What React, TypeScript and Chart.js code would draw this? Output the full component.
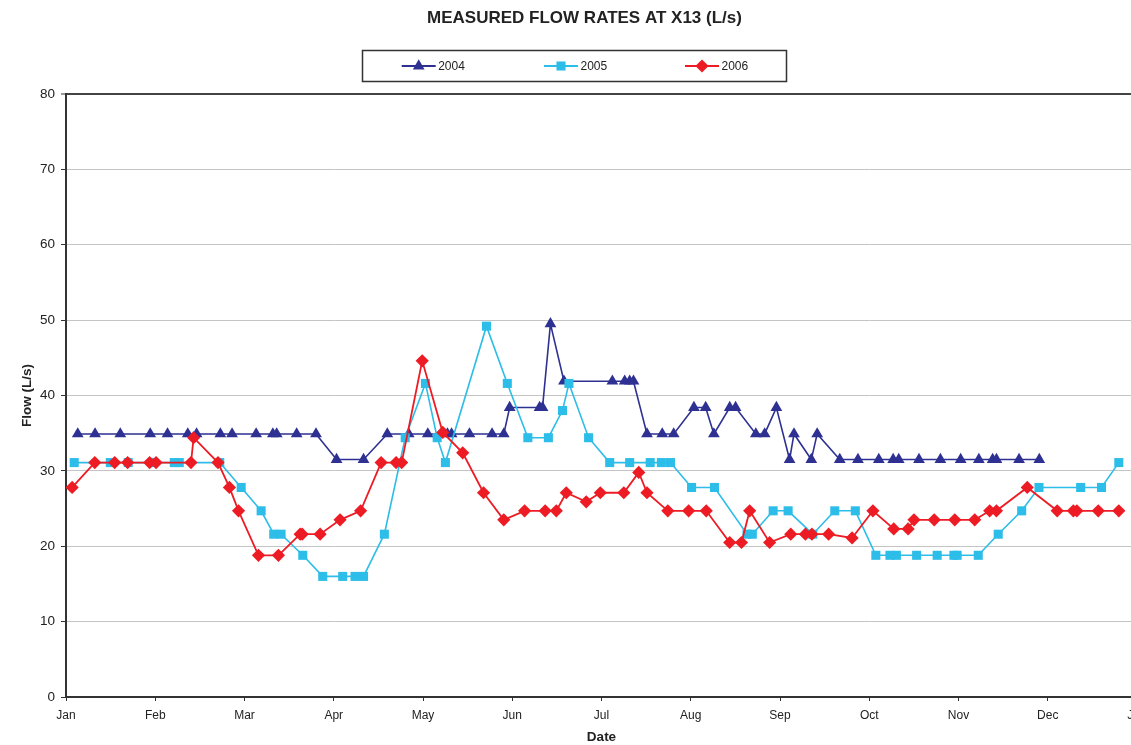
import React, { useEffect, useRef } from "react";
import { Chart, registerables } from "chart.js";

Chart.register(...registerables);

const MONTH_LABELS = ["Jan", "Feb", "Mar", "Apr", "May", "Jun", "Jul", "Aug", "Sep", "Oct", "Nov", "Dec", "Jan"];
const Y_TICKS = [0, 10, 20, 30, 40, 50, 60, 70, 80];

const TITLE = "MEASURED FLOW RATES AT X13 (L/s)";
const X_TITLE = "Date";
const Y_TITLE = "Flow (L/s)";
const SERIES_NAMES = ["2004", "2005", "2006"];

// day of year
const DAYS_2004 = [4.0, 9.9, 18.5, 28.7, 34.6, 41.5, 44.5, 52.6, 56.6, 64.8, 70.5, 71.8, 78.6, 85.2, 92.2, 101.4, 109.5, 116.8, 123.3, 130.0, 131.4, 137.5, 145.2, 149.2, 151.2, 161.4, 162.4, 165.1, 169.7, 186.2, 190.4, 192.1, 193.4, 198.0, 203.2, 207.1, 214.0, 218.0, 220.8, 226.2, 228.2, 235.1, 238.1, 242.1, 246.6, 248.1, 254.0, 256.0, 263.7, 269.9, 277.0, 281.9, 283.8, 290.7, 298.0, 304.9, 311.1, 315.8, 317.1, 324.8, 331.7];
const FLOW_2004 = [34.9, 34.9, 34.9, 34.9, 34.9, 34.9, 34.9, 34.9, 34.9, 34.9, 34.9, 34.9, 34.9, 34.9, 31.5, 31.5, 34.9, 34.9, 34.9, 34.9, 34.9, 34.9, 34.9, 34.9, 38.4, 38.4, 38.4, 49.5, 41.9, 41.9, 41.9, 41.9, 41.9, 34.9, 34.9, 34.9, 38.4, 38.4, 34.9, 38.4, 38.4, 34.9, 34.9, 38.4, 31.5, 34.9, 31.5, 34.9, 31.5, 31.5, 31.5, 31.5, 31.5, 31.5, 31.5, 31.5, 31.5, 31.5, 31.5, 31.5, 31.5];

const DAYS_2005 = [2.8, 15.1, 21.2, 29.4, 36.9, 38.6, 52.4, 59.7, 66.5, 70.8, 73.3, 80.7, 87.5, 94.3, 98.5, 101.4, 108.5, 115.6, 122.5, 126.5, 129.3, 143.3, 150.4, 157.4, 164.4, 169.2, 171.4, 178.1, 185.3, 192.1, 199.1, 202.9, 206.0, 213.2, 221.0, 232.1, 233.9, 241.0, 246.1, 254.5, 262.0, 269.0, 276.0, 280.8, 283.0, 289.9, 296.9, 302.6, 303.7, 310.9, 317.7, 325.7, 331.6, 345.8, 352.9, 358.8];
const FLOW_2005 = [31.1, 31.1, 31.1, 31.1, 31.1, 31.1, 31.1, 27.8, 24.7, 21.6, 21.6, 18.8, 16.0, 16.0, 16.0, 16.0, 21.6, 34.4, 41.6, 34.4, 31.1, 49.2, 41.6, 34.4, 34.4, 38.0, 41.6, 34.4, 31.1, 31.1, 31.1, 31.1, 31.1, 27.8, 27.8, 21.6, 21.6, 24.7, 24.7, 21.6, 24.7, 24.7, 18.8, 18.8, 18.8, 18.8, 18.8, 18.8, 18.8, 18.8, 21.6, 24.7, 27.8, 27.8, 27.8, 31.1];

const DAYS_2006 = [2.1, 9.8, 16.6, 21.0, 28.5, 30.7, 42.6, 43.5, 51.8, 55.7, 58.8, 65.6, 72.4, 79.8, 80.5, 86.6, 93.4, 100.4, 107.4, 112.5, 114.4, 121.4, 128.4, 135.2, 142.3, 149.2, 156.3, 163.3, 167.1, 170.5, 177.3, 182.1, 190.1, 195.2, 198.0, 205.1, 212.2, 218.2, 226.2, 230.2, 233.0, 239.8, 247.0, 252.0, 254.2, 259.9, 267.9, 275.0, 282.1, 287.0, 289.0, 295.9, 302.9, 309.7, 314.8, 317.1, 327.6, 337.8, 343.3, 344.5, 351.8, 358.8];
const FLOW_2006 = [27.8, 31.1, 31.1, 31.1, 31.1, 31.1, 31.1, 34.4, 31.1, 27.8, 24.7, 18.8, 18.8, 21.6, 21.6, 21.6, 23.5, 24.7, 31.1, 31.1, 31.1, 44.6, 35.1, 32.4, 27.1, 23.5, 24.7, 24.7, 24.7, 27.1, 25.9, 27.1, 27.1, 29.8, 27.1, 24.7, 24.7, 24.7, 20.5, 20.5, 24.7, 20.5, 21.6, 21.6, 21.6, 21.6, 21.1, 24.7, 22.3, 22.3, 23.5, 23.5, 23.5, 23.5, 24.7, 24.7, 27.8, 24.7, 24.7, 24.7, 24.7, 24.7];

const COLORS = ["#2E3192", "#2CBDE8", "#ED1C24"];
const STYLES = ["triangle", "rect", "rectRot"];
const RADII = [6.8, 6.4, 6.6];
const TEXT = "#222222";
const FONT = "Arial, 'Liberation Sans', sans-serif";

function toPoints(xs: number[], ys: number[]) {
  return xs.map((x, i) => ({ x, y: ys[i] }));
}

function drawMarker(ctx: CanvasRenderingContext2D, style: string, x: number, y: number, r: number) {
  ctx.beginPath();
  if (style === "triangle") {
    for (let k = 0; k < 3; k++) {
      const a = (k * 2 * Math.PI) / 3;
      const px = x + Math.sin(a) * r;
      const py = y - Math.cos(a) * r;
      if (k === 0) ctx.moveTo(px, py);
      else ctx.lineTo(px, py);
    }
    ctx.closePath();
  } else if (style === "rect") {
    const s = r * Math.SQRT1_2;
    ctx.rect(x - s, y - s, 2 * s, 2 * s);
  } else {
    ctx.moveTo(x, y - r);
    ctx.lineTo(x + r, y);
    ctx.lineTo(x, y + r);
    ctx.lineTo(x - r, y);
    ctx.closePath();
  }
  ctx.fill();
}

const overlayPlugin = {
  id: "overlay",
  afterDraw(chart: any) {
    const ctx = chart.ctx as CanvasRenderingContext2D;
    ctx.save();
    // title
    ctx.fillStyle = TEXT;
    ctx.font = `bold 17px ${FONT}`;
    ctx.textAlign = "center";
    ctx.textBaseline = "middle";
    ctx.fillText(TITLE, 584.5, 18.5);
    // legend box
    ctx.strokeStyle = "#333333";
    ctx.lineWidth = 1.5;
    ctx.strokeRect(362.5, 50.5, 424, 31);
    const lineStarts = [401.7, 544, 685];
    const ly = 66;
    ctx.font = `12px ${FONT}`;
    ctx.textAlign = "left";
    for (let i = 0; i < 3; i++) {
      const x0 = lineStarts[i];
      ctx.strokeStyle = COLORS[i];
      ctx.fillStyle = COLORS[i];
      ctx.lineWidth = 2;
      ctx.beginPath();
      ctx.moveTo(x0, ly);
      ctx.lineTo(x0 + 34, ly);
      ctx.stroke();
      drawMarker(ctx, STYLES[i], x0 + 17, ly, RADII[i]);
      ctx.fillStyle = TEXT;
      ctx.fillText(SERIES_NAMES[i], x0 + 36.5, ly + 0.5);
    }
    ctx.restore();
  },
};

export default function App() {
  const ref = useRef<HTMLCanvasElement | null>(null);

  useEffect(() => {
    if (!ref.current) return;
    const seriesX = [DAYS_2004, DAYS_2005, DAYS_2006];
    const seriesY = [FLOW_2004, FLOW_2005, FLOW_2006];
    const chart = new Chart(ref.current, {
      type: "line",
      data: {
        datasets: SERIES_NAMES.map((name, i) => ({
          label: name,
          data: toPoints(seriesX[i], seriesY[i]),
          borderColor: COLORS[i],
          backgroundColor: COLORS[i],
          pointBackgroundColor: COLORS[i],
          pointBorderColor: COLORS[i],
          pointBorderWidth: 0,
          pointStyle: STYLES[i] as any,
          pointRadius: RADII[i],
          borderWidth: i === 2 ? 1.8 : 1.6,
          tension: 0,
          fill: false,
          order: 2 - i,
        })),
      },
      options: {
        responsive: false,
        animation: false,
        events: [],
        layout: { padding: { top: 94, right: 23, left: 0, bottom: 0 } },
        plugins: {
          legend: { display: false },
          title: { display: false },
          tooltip: { enabled: false },
        },
        scales: {
          x: {
            type: "linear",
            min: 0,
            max: 365,
            afterBuildTicks: (scale: any) => {
              scale.ticks = MONTH_LABELS.map((_, i) => ({ value: (i * 365) / 12 }));
            },
            afterFit: (scale: any) => {
              scale.height = 48;
            },
            ticks: {
              autoSkip: false,
              maxRotation: 0,
              minRotation: 0,
              padding: 7,
              color: TEXT,
              font: { family: FONT, size: 12 },
              callback: (_v: any, index: number) => MONTH_LABELS[index],
            },
            grid: {
              drawOnChartArea: false,
              drawTicks: true,
              tickLength: 4,
              tickColor: "#333333",
              tickWidth: 1,
            },
            border: { display: true, color: "#333333", width: 2 },
            title: {
              display: true,
              text: X_TITLE,
              color: TEXT,
              font: { family: FONT, size: 13.5, weight: "bold" },
              padding: { top: 0, bottom: 0 },
            },
          },
          y: {
            min: 0,
            max: 80,
            afterBuildTicks: (scale: any) => {
              scale.ticks = Y_TICKS.map((v) => ({ value: v }));
            },
            afterFit: (scale: any) => {
              scale.width = 66;
            },
            ticks: {
              padding: 6,
              color: TEXT,
              font: { family: FONT, size: 13.5 },
            },
            grid: {
              color: (c: any) => (c.tick && c.tick.value === 80 ? "#444444" : "#C4C4C4"),
              lineWidth: (c: any) => (c.tick && c.tick.value === 80 ? 2 : 1),
              drawTicks: true,
              tickLength: 5,
              tickColor: "#333333",
              tickWidth: 1,
            },
            border: { display: true, color: "#333333", width: 2 },
            title: {
              display: true,
              text: Y_TITLE,
              color: TEXT,
              font: { family: FONT, size: 13.5, weight: "bold" },
              padding: { top: 19, bottom: 0 },
            },
          },
        },
      },
      plugins: [overlayPlugin],
    } as any);
    return () => chart.destroy();
  }, []);

  return (
    <div
      style={{
        position: "fixed",
        left: 0,
        top: 0,
        width: 1131,
        height: 745,
        overflow: "hidden",
        background: "#ffffff",
      }}
    >
      <canvas ref={ref} width={1160} height={745} style={{ display: "block" }} />
    </div>
  );
}
